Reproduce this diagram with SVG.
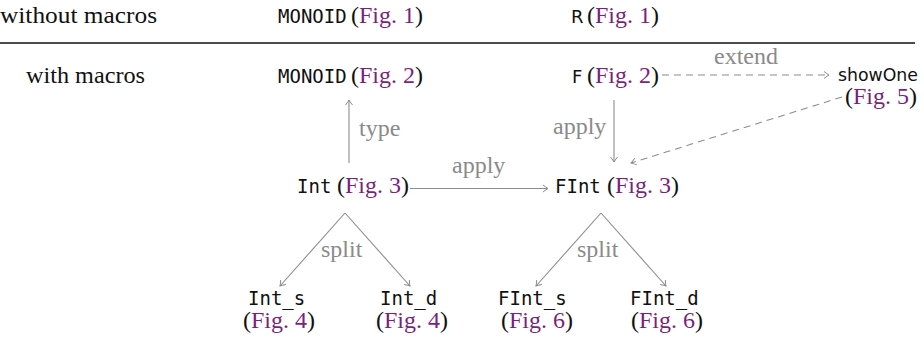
<svg xmlns="http://www.w3.org/2000/svg" width="924" height="341" viewBox="0 0 924 341">
<style>
.s{font-family:"Liberation Serif","Times New Roman",serif;font-size:24px;fill:#111}
.m{font-family:"DejaVu Sans Mono",monospace;font-size:19px;fill:#111}
.ss{font-family:"DejaVu Sans",sans-serif;font-size:18px;fill:#111}
.f{fill:#7b1f80}
.l{font-family:"Liberation Serif","Times New Roman",serif;font-size:24px;fill:#8a8a8a}
.e{stroke:#8c8c8c;stroke-width:1.1;fill:none;marker-end:url(#ah)}
.d{stroke-dasharray:7 5}
</style>
<defs>
<marker id="ah" markerWidth="10" markerHeight="10" refX="0" refY="0" viewBox="-6 -5 8 10" orient="auto" markerUnits="userSpaceOnUse">
<path d="M-5,-3.5 Q-1.5,-0.8 0,0 Q-1.5,0.8 -5,3.5" fill="none" stroke="#8c8c8c" stroke-width="1"/>
</marker>
</defs>
<g id="rows">
<text class="s" x="0" y="23" textLength="157" lengthAdjust="spacingAndGlyphs">without macros</text>
<text class="s" x="26" y="83" textLength="119" lengthAdjust="spacingAndGlyphs">with macros</text>
<line x1="0" y1="43" x2="915" y2="43" stroke="#111" stroke-width="1.3"/>
</g>
<g id="monoid1"><text class="m" x="278" y="23">MONOID</text><text class="s" x="351" y="23">(<tspan class="f">Fig. 1</tspan>)</text></g>
<g id="r1"><text class="ss" x="571" y="23">R</text><text class="s" x="587" y="23">(<tspan class="f">Fig. 1</tspan>)</text></g>
<g id="monoid2"><text class="m" x="278" y="83">MONOID</text><text class="s" x="351" y="83">(<tspan class="f">Fig. 2</tspan>)</text></g>
<g id="f2"><text class="ss" x="572" y="83">F</text><text class="s" x="587" y="83">(<tspan class="f">Fig. 2</tspan>)</text></g>
<g id="showone"><text class="ss" x="838" y="81" textLength="80" lengthAdjust="spacingAndGlyphs">showOne</text><text class="s" x="845" y="104" font-size="23">(<tspan class="f">Fig. 5</tspan>)</text></g>
<g id="int"><text class="m" x="297" y="193">Int</text><text class="s" x="337" y="193">(<tspan class="f">Fig. 3</tspan>)</text></g>
<g id="fint"><text class="m" x="555" y="193">FInt</text><text class="s" x="607" y="193">(<tspan class="f">Fig. 3</tspan>)</text></g>
<g id="int_s"><text class="m" x="248" y="305">Int_s</text><text class="s" x="243" y="328">(<tspan class="f">Fig. 4</tspan>)</text></g>
<g id="int_d"><text class="m" x="380" y="305">Int_d</text><text class="s" x="376" y="328">(<tspan class="f">Fig. 4</tspan>)</text></g>
<g id="fint_s"><text class="m" x="498" y="305">FInt_s</text><text class="s" x="501" y="328">(<tspan class="f">Fig. 6</tspan>)</text></g>
<g id="fint_d"><text class="m" x="630" y="305">FInt_d</text><text class="s" x="631" y="328">(<tspan class="f">Fig. 6</tspan>)</text></g>
<g id="connectors">
<line class="e" x1="349" y1="163" x2="349" y2="100"/>
<line class="e" x1="614" y1="100" x2="614" y2="162"/>
<line class="e" x1="410" y1="188.5" x2="548" y2="188.5"/>
<line class="e d" x1="662" y1="75" x2="829" y2="75"/>
<line class="e d" x1="842" y1="97" x2="631" y2="163"/>
<line class="e" x1="345" y1="213" x2="280" y2="286"/>
<line class="e" x1="345" y1="213" x2="410" y2="286"/>
<line class="e" x1="601" y1="213" x2="536" y2="286"/>
<line class="e" x1="601" y1="213" x2="666" y2="286"/>
<text class="l" x="359" y="136">type</text>
<text class="l" x="553" y="134">apply</text>
<text class="l" x="452" y="173">apply</text>
<text class="l" x="714" y="64">extend</text>
<text class="l" x="321" y="257">split</text>
<text class="l" x="577" y="257">split</text>
</g>
</svg>
